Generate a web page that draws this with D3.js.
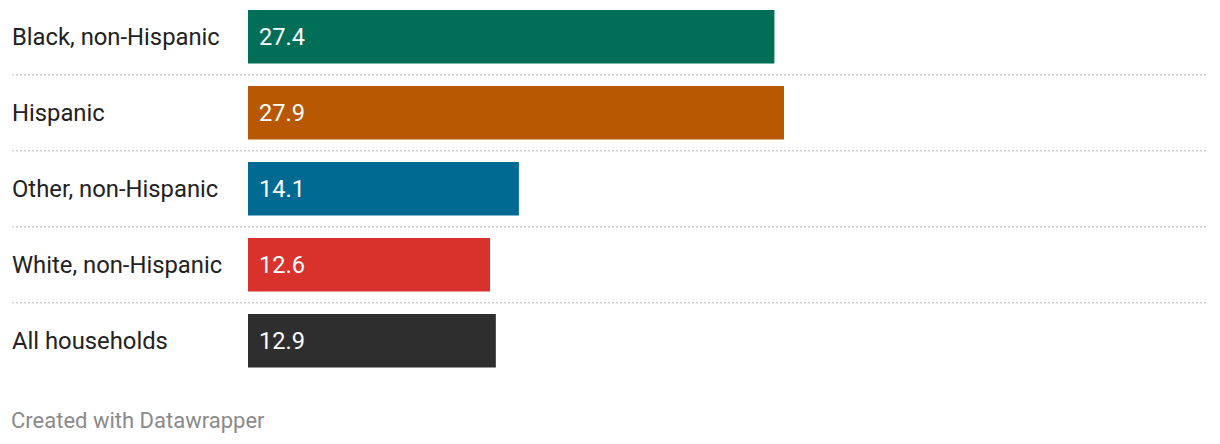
<!DOCTYPE html>
<html><head><meta charset="utf-8">
<script src="https://cdn.jsdelivr.net/npm/d3@7"></script>
<style>body{margin:0;background:#fff;} text{font-family:Roboto,sans-serif;}</style>
</head><body>
<svg id="chart" width="1220" height="444"></svg>
<script>
const categories = ["Black, non-Hispanic","Hispanic","Other, non-Hispanic","White, non-Hispanic","All households"];
const values = [27.4, 27.9, 14.1, 12.6, 12.9];
const colors = ["#016f57","#b95803","#006a93","#d9322c","#2e2e2e"];
const footer = "Created with Datawrapper";

const svg = d3.select("#chart");
const x = d3.scaleLinear().domain([0, 27.9]).range([248, 784]);
const y = d3.scaleBand().domain(categories).range([10, 367.5]).paddingInner(0.296).paddingOuter(0);
const bh = y.bandwidth();

// separators
categories.slice(0,-1).forEach((c)=>{
  const ly = y(c) + bh + (y.step()-bh)/2;
  svg.append("line").attr("x1",12).attr("x2",1208)
    .attr("y1", ly).attr("y2", ly)
    .attr("stroke","#d0d0d0").attr("stroke-width",1.5).attr("stroke-dasharray","2,2");
});

const g = svg.selectAll("g.row").data(categories).enter().append("g");
g.append("rect").attr("x", x(0)).attr("y",d=>y(d)).attr("height",bh)
  .attr("width",(d,i)=>x(values[i])-x(0)).attr("fill",(d,i)=>colors[i]);
g.append("text").attr("x",12).attr("y",d=>y(d)+bh/2 - 0.5).attr("dy","0.35em")
  .attr("font-size",23.8).attr("fill","#222").text(d=>d);
g.append("text").attr("x",x(0)+11).attr("y",d=>y(d)+bh/2 - 0.5).attr("dy","0.35em")
  .attr("font-size",23.6).attr("fill","#fff").text((d,i)=>values[i].toFixed(1));

svg.append("text").attr("x",11).attr("y",428).attr("font-size",22).attr("fill","#8a8a8a").text(footer);
</script>
</body></html>
